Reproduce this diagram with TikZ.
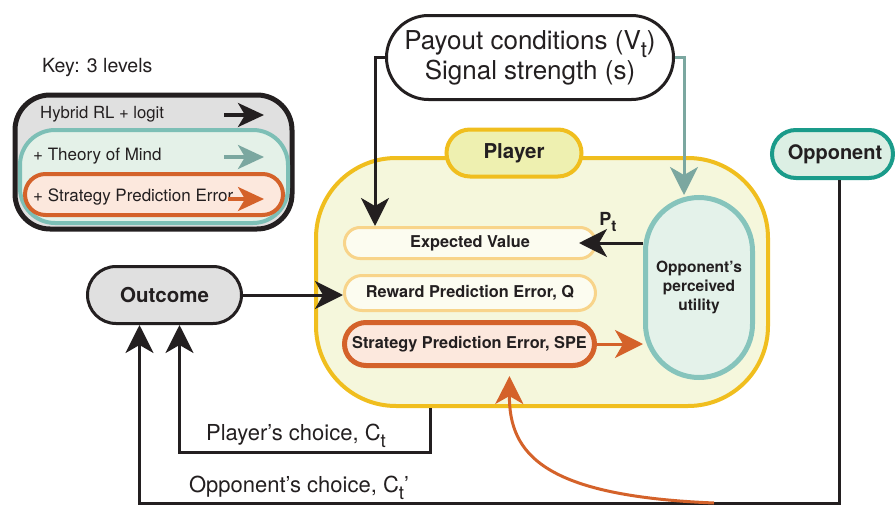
\documentclass[tikz,border=0pt]{standalone}
\usepackage{fontspec}
\usepackage{graphicx}
\setmainfont{TeX Gyre Heros}
\usetikzlibrary{arrows.meta}
\definecolor{ink}{HTML}{231F20}
\definecolor{keygray}{HTML}{E0E0E0}
\definecolor{tealstroke}{HTML}{7DBFB6}
\definecolor{tealfill}{HTML}{E4F1E8}
\definecolor{tealarrow}{HTML}{7BA7A0}
\definecolor{orstroke}{HTML}{D4622A}
\definecolor{orfill}{HTML}{FCE8DD}
\definecolor{utilstroke}{HTML}{86C4BC}
\definecolor{utilfill}{HTML}{E4F2EA}
\definecolor{oppstroke}{HTML}{1A9B8A}
\definecolor{oppfill}{HTML}{DCEFE4}
\definecolor{ylwstroke}{HTML}{F0BE1E}
\definecolor{ylwlabel}{HTML}{EEF0B0}
\definecolor{ylwfill}{HTML}{F5F7DC}
\definecolor{paleor}{HTML}{F8D48A}
\definecolor{palefill}{HTML}{FCFCF0}
\newcommand\subt[1]{\raisebox{-0.32em}{\scalebox{0.85}{#1}}}
\tikzset{
  box/.style={draw, rectangle, inner sep=0pt, align=center, text=ink},
  lbl/.style={inner sep=0pt, text=ink, align=center},
  tip/.style={-{Stealth[length=28pt,width=28pt,inset=8pt]}},
  arr/.style={tip, line width=3pt, draw=ink},
  orarr/.style={tip, line width=3pt, draw=orstroke},
  tlarr/.style={tip, line width=3pt, draw=tealarrow},
  keytip/.style={-{Stealth[length=26pt,width=24pt,inset=7pt]}, line width=3.5pt},
}
\begin{document}
\begin{tikzpicture}[x=1pt,y=-1pt]
\useasboundingbox (0,0) rectangle (895,506);

% ---------- Key ----------
\node[lbl, anchor=west, font=\fontsize{19.5pt}{22pt}\selectfont] (keytitle) at (42,68) {Key: 3 levels};
\node[box, line width=5pt, draw=ink, fill=keygray, minimum width=277pt, minimum height=134pt, rounded corners=35pt] (key1) at (153.5,162) {};
\node[box, line width=4pt, draw=tealstroke, fill=tealfill, minimum width=268pt, minimum height=93pt, rounded corners=35pt] (key2) at (154,176.5) {};
\node[box, line width=4pt, draw=orstroke, fill=orfill, minimum width=258pt, minimum height=41pt, rounded corners=20.5pt] (key3) at (154,194.5) {};
\node[lbl, anchor=west, font=\fontsize{16.7pt}{20pt}\selectfont] (k1t) at (40,114) {Hybrid RL + logit};
\node[lbl, anchor=west, font=\fontsize{17pt}{20pt}\selectfont] (k2t) at (33,156) {+ Theory of Mind};
\node[lbl, anchor=west, font=\fontsize{17pt}{20pt}\selectfont] (k3t) at (33,197) {+ Strategy Prediction Error};
\coordinate (k1a) at (224,115); \coordinate (k1b) at (264,115);
\coordinate (k2a) at (224,157); \coordinate (k2b) at (264,157);
\coordinate (k3a) at (228,199); \coordinate (k3b) at (264,199);
\draw[keytip, draw=ink] (k1a) -- (k1b);
\draw[keytip, draw=tealarrow] (k2a) -- (k2b);
\draw[keytip, draw=orstroke] (k3a) -- (k3b);

% ---------- Player ----------
\node[box, line width=4pt, draw=ylwstroke, fill=ylwfill, minimum width=452pt, minimum height=248pt, rounded corners=80pt] (pbox) at (542,282) {};
\node[box, line width=4pt, draw=ylwstroke, fill=ylwlabel, minimum width=135pt, minimum height=47pt, rounded corners=23.5pt, font=\fontsize{20.5pt}{24pt}\selectfont\bfseries] (plabel) at (514,153) {Player};
\node[box, line width=3pt, draw=paleor, fill=palefill, minimum width=251pt, minimum height=31pt, rounded corners=15.5pt, font=\fontsize{16.3pt}{19pt}\selectfont\bfseries] (ev) at (470,243) {Expected Value};
\node[box, line width=3pt, draw=paleor, fill=palefill, minimum width=251pt, minimum height=35pt, rounded corners=17.5pt, font=\fontsize{16.3pt}{19pt}\selectfont\bfseries] (rpe) at (470,293) {Reward Prediction Error, Q};
\node[box, line width=5pt, draw=orstroke, fill=orfill, minimum width=250pt, minimum height=43pt, rounded corners=21.5pt, font=\fontsize{16.3pt}{19pt}\selectfont\bfseries] (spe) at (469.5,344) {Strategy Prediction Error, SPE};
\node[box, line width=5pt, draw=utilstroke, fill=utilfill, minimum width=107pt, minimum height=180pt, rounded corners=53.5pt, font=\fontsize{15.5pt}{19pt}\selectfont\bfseries] (util) at (699,287.5) {Opponent’s\\perceived\\utility};

% ---------- Other nodes ----------
\node[box, line width=3pt, draw=ink, fill=white, minimum width=287pt, minimum height=84pt, rounded corners=42pt, font=\fontsize{26pt}{30pt}\selectfont] (payout) at (530,57.5) {Payout conditions (V\subt{t})\\Signal strength (s)};
\node[box, line width=4pt, draw=oppstroke, fill=oppfill, minimum width=121pt, minimum height=48pt, rounded corners=24pt, font=\fontsize{20pt}{24pt}\selectfont\bfseries] (opp) at (832.5,154) {\hspace*{5pt}Opponent};
\node[box, line width=3pt, draw=ink, fill=keygray, minimum width=154pt, minimum height=57pt, rounded corners=28.5pt, font=\fontsize{20.5pt}{24pt}\selectfont\bfseries] (outcome) at (164.5,295) {Outcome};

% ---------- Connectors ----------
\draw[arr] (payout.west) -| ([xshift=-95pt]ev.north);
\draw[tlarr] (payout.east) -| ([xshift=-15pt]util.north);
\draw[arr] (util.west |- ev.east) -- ([xshift=-18pt]ev.east);
\node[lbl, font=\fontsize{18pt}{21pt}\selectfont\bfseries] (pt) at (608,222) {P\subt{t}};
\draw[orarr] (spe.east) -- (util.west |- spe.east);
\draw[arr] (outcome.east) -- (outcome.east -| rpe.west);

\draw[arr] ([xshift=-112pt]pbox.south) -- ++(0,44) -| ([xshift=15pt]outcome.south);
\coordinate (oppturn) at (839,503);
\draw[arr] ([xshift=6.5pt]opp.south) -- (oppturn) -| ([xshift=-25pt]outcome.south);
\coordinate (cstart) at (714,503);
\draw[orarr] (cstart) .. controls (545,496) and (509,455) .. ([xshift=40pt,yshift=-8pt]spe.south);

\node[lbl, font=\fontsize{22pt}{25pt}\selectfont] (pclab) at (296,436) {Player’s choice, C\subt{t}};
\node[lbl, font=\fontsize{22pt}{25pt}\selectfont] (oclab) at (299,488) {Opponent’s choice, C\subt{t}’};
\end{tikzpicture}
\end{document}
